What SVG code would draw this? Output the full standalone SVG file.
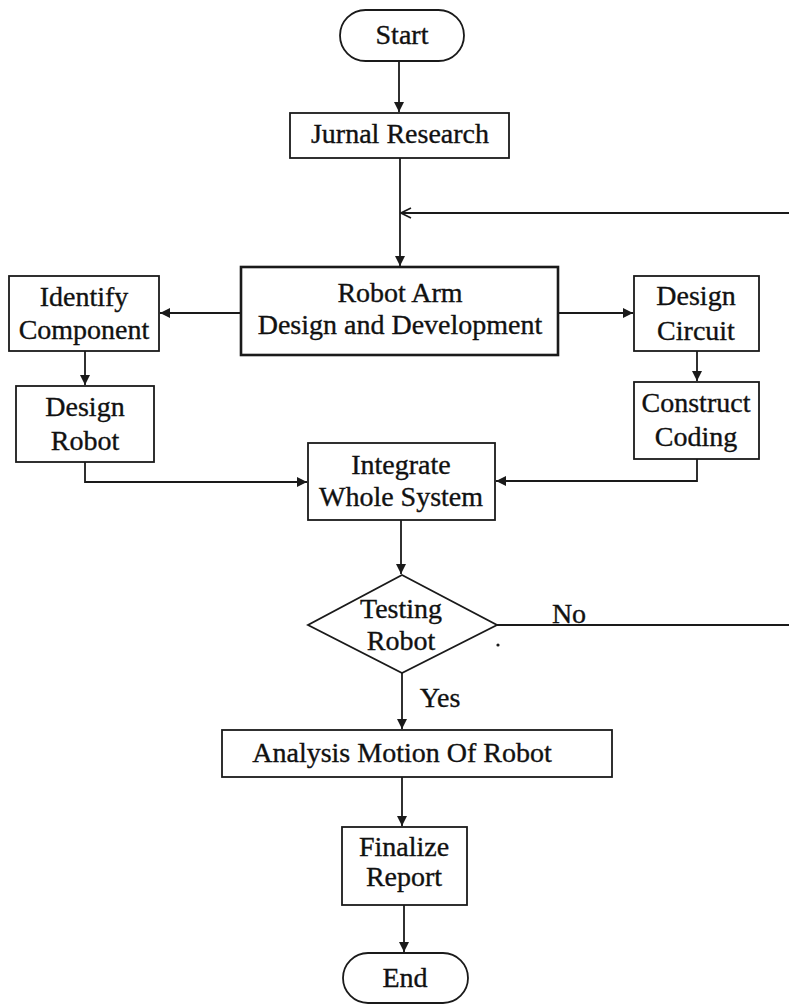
<svg xmlns="http://www.w3.org/2000/svg" width="789" height="1005" viewBox="0 0 789 1005">
<style>
.box{fill:#fff;stroke:#1a1a1a;stroke-width:1.8}
.thick{stroke-width:2.6}
.t{font-family:"Liberation Serif","Times New Roman",serif;font-size:28px;fill:#111;text-anchor:middle;stroke:#111;stroke-width:0.35}
.c{fill:none;stroke:#1a1a1a;stroke-width:1.8}
</style>
<defs>
<marker id="ah" viewBox="0 0 10 10" refX="10" refY="5" markerWidth="10" markerHeight="10" markerUnits="userSpaceOnUse" orient="auto">
<path d="M0,0 L10,5 L0,10 z" fill="#1a1a1a"/>
</marker>
<marker id="open" viewBox="0 0 12 12" refX="11" refY="6" markerWidth="12" markerHeight="12" markerUnits="userSpaceOnUse" orient="auto">
<path d="M1,1 L11,6 L1,11" fill="none" stroke="#1a1a1a" stroke-width="1.6"/>
</marker>
</defs>
<rect width="789" height="1005" fill="#fff"/>
<g id="connectors">
<line class="c" x1="399" y1="61" x2="399" y2="112" marker-end="url(#ah)"/>
<line class="c" x1="400" y1="158" x2="400" y2="266" marker-end="url(#ah)"/>
<line class="c" x1="789" y1="213" x2="401" y2="213" marker-end="url(#open)"/>
<line class="c" x1="241" y1="313" x2="160" y2="313" marker-end="url(#ah)"/>
<line class="c" x1="558" y1="313" x2="633" y2="313" marker-end="url(#ah)"/>
<line class="c" x1="85" y1="351" x2="85" y2="385" marker-end="url(#ah)"/>
<line class="c" x1="697" y1="351" x2="697" y2="381" marker-end="url(#ah)"/>
<polyline class="c" points="85,462 85,482 307,482" marker-end="url(#ah)"/>
<polyline class="c" points="697,459 697,481 496,481" marker-end="url(#ah)"/>
<line class="c" x1="401" y1="520" x2="401" y2="574" marker-end="url(#ah)"/>
<line class="c" x1="497" y1="625" x2="789" y2="625"/>
<line class="c" x1="402" y1="673" x2="402" y2="729" marker-end="url(#ah)"/>
<line class="c" x1="402" y1="777" x2="402" y2="826" marker-end="url(#ah)"/>
<line class="c" x1="404" y1="905" x2="404" y2="952" marker-end="url(#ah)"/>
<text class="t" x="569" y="623">No</text>
<text class="t" x="440" y="707">Yes</text>
<circle cx="498" cy="645" r="1.6" fill="#1a1a1a"/>
</g>
<g id="start">
<rect class="box" x="340" y="10" width="124" height="51" rx="25.5" ry="25.5"/>
<text class="t" x="402" y="44">Start</text>
</g>
<g id="jurnal">
<rect class="box" x="290" y="113" width="219" height="45"/>
<text class="t" x="400" y="143">Jurnal Research</text>
</g>
<g id="robotarm">
<rect class="box thick" x="241" y="267" width="317" height="88"/>
<text class="t" x="400" y="302">Robot Arm</text>
<text class="t" x="400" y="334">Design and Development</text>
</g>
<g id="identify">
<rect class="box" x="9" y="276" width="150" height="75"/>
<text class="t" x="84" y="306">Identify</text>
<text class="t" x="84" y="339">Component</text>
</g>
<g id="designrobot">
<rect class="box" x="16" y="386" width="138" height="76"/>
<text class="t" x="85" y="416">Design</text>
<text class="t" x="85" y="450">Robot</text>
</g>
<g id="designcircuit">
<rect class="box" x="634" y="276" width="125" height="75"/>
<text class="t" x="696" y="305">Design</text>
<text class="t" x="696" y="340">Circuit</text>
</g>
<g id="construct">
<rect class="box" x="634" y="382" width="125" height="77"/>
<text class="t" x="696" y="412">Construct</text>
<text class="t" x="696" y="446">Coding</text>
</g>
<g id="integrate">
<rect class="box" x="308" y="443" width="187" height="77"/>
<text class="t" x="401" y="474">Integrate</text>
<text class="t" x="401" y="506">Whole System</text>
</g>
<g id="testing">
<polygon class="box" points="402,575 497,625 402,673 308,625"/>
<text class="t" x="401" y="618">Testing</text>
<text class="t" x="401" y="650">Robot</text>
</g>
<g id="analysis">
<rect class="box" x="222" y="730" width="390" height="47"/>
<text class="t" x="402" y="762">Analysis Motion Of Robot</text>
</g>
<g id="finalize">
<rect class="box" x="342" y="827" width="125" height="78"/>
<text class="t" x="404" y="856">Finalize</text>
<text class="t" x="404" y="886">Report</text>
</g>
<g id="end">
<rect class="box" x="343" y="953" width="125" height="50" rx="25" ry="25"/>
<text class="t" x="405" y="987">End</text>
</g>
</svg>
